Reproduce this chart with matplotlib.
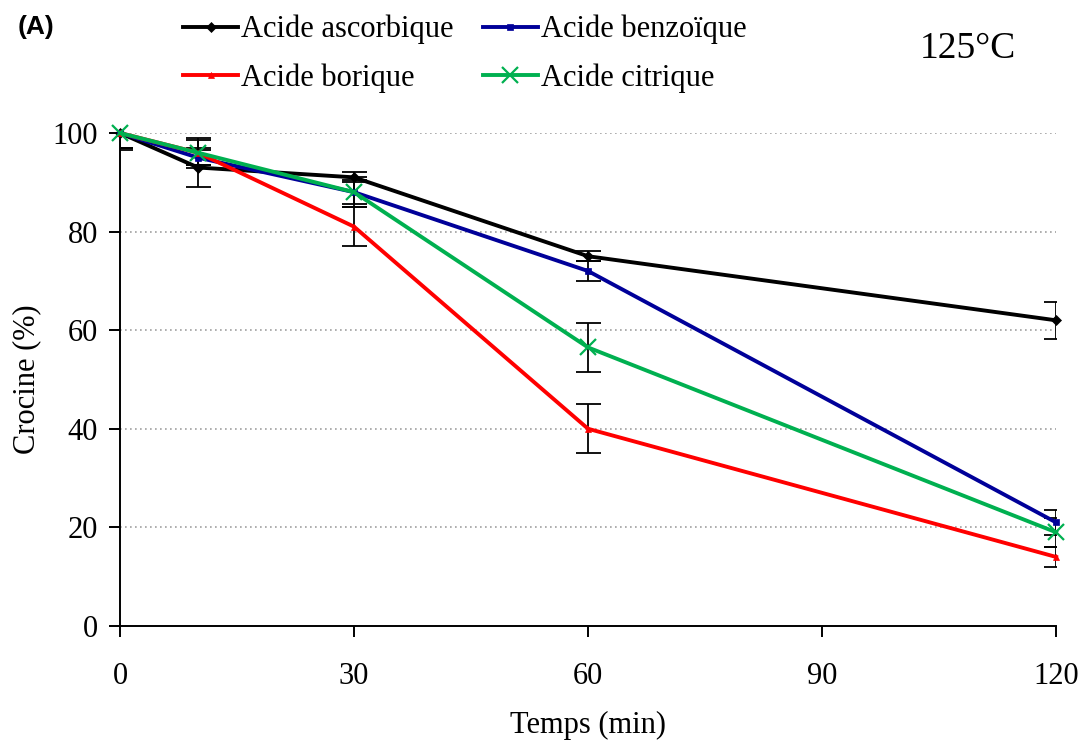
import numpy as np
import matplotlib.pyplot as plt

# Temps de chauffage (min) et teneur en crocine (%)
temps = [0, 10, 30, 60, 120]

ascorbique = [100, 93, 91, 75, 62]
benzoique = [100, 95, 88, 72, 21]
borique = [100, 96, 81, 40, 14]
citrique = [100, 96, 88, 56.5, 19]

err_ascorbique = [3.5, 4, 1, 1, 3.8]
err_benzoique = [3, 1.5, 2.5, 2, 2.5]
err_borique = [3, 2.5, 4, 5, 2]
err_citrique = [3, 3, 3, 5, 3]

plt.rcParams['font.family'] = ['Liberation Serif', 'DejaVu Serif']

fig = plt.figure(figsize=(10.81, 7.43), dpi=100)
ax = fig.add_axes([0.111, 0.1575, 0.866, 0.6635])

series = [
    ('Acide ascorbique', ascorbique, err_ascorbique, 'black', 'D', 5),
    ('Acide benzoïque', benzoique, err_benzoique, '#000099', 's', 5),
    ('Acide borique', borique, err_borique, '#FF0000', '^', 5),
    ('Acide citrique', citrique, err_citrique, '#00B050', 'x', 11),
]

handles = []
for nom, val, err, col, mk, ms in series:
    ax.errorbar(temps, val, yerr=err, fmt='none', ecolor='black',
                elinewidth=1.3, capsize=9, capthick=1.3, zorder=2)
    h, = ax.plot(temps, val, color=col, lw=2.8, marker=mk, markersize=ms,
                 markeredgewidth=1.6 if mk == 'x' else 0.5, label=nom,
                 zorder=3, clip_on=False)
    handles.append(h)

ax.set_xlim(0, 120)
ax.set_ylim(0, 100)
ax.set_xticks([0, 30, 60, 90, 120])
ax.set_yticks(range(0, 101, 20))
ax.yaxis.grid(True, linestyle=(0, (1, 2)), color='#a0a0a0', lw=1.2)
ax.set_axisbelow(True)

for s in ['top', 'right']:
    ax.spines[s].set_visible(False)
ax.spines['left'].set_linewidth(1.4)
ax.spines['bottom'].set_linewidth(1.4)
ax.tick_params(axis='both', direction='out', length=8, width=1.4,
               labelsize=22)
ax.tick_params(axis='x', pad=18)
ax.tick_params(axis='y', pad=8)

ax.set_xlabel('Temps (min)', fontsize=22, labelpad=14)
ax.set_ylabel('Crocine (%)', fontsize=22, labelpad=8)

# légende sur deux colonnes, remplie ligne par ligne
ordre = [0, 2, 1, 3]
fig.legend(handles=[handles[i] for i in ordre], loc='upper left',
           bbox_to_anchor=(0.144, 1.017), ncol=2, frameon=False, fontsize=22,
           handlelength=1.8, handletextpad=0.1, columnspacing=0.95,
           labelspacing=0.62)

fig.text(0.016, 0.963, '(A)', fontsize=19, fontweight='bold',
         family=['Liberation Sans', 'DejaVu Sans'], va='center')
fig.text(0.940, 0.935, '125°C', fontsize=27, ha='right', va='center')

fig.savefig('out.png', dpi=100)
